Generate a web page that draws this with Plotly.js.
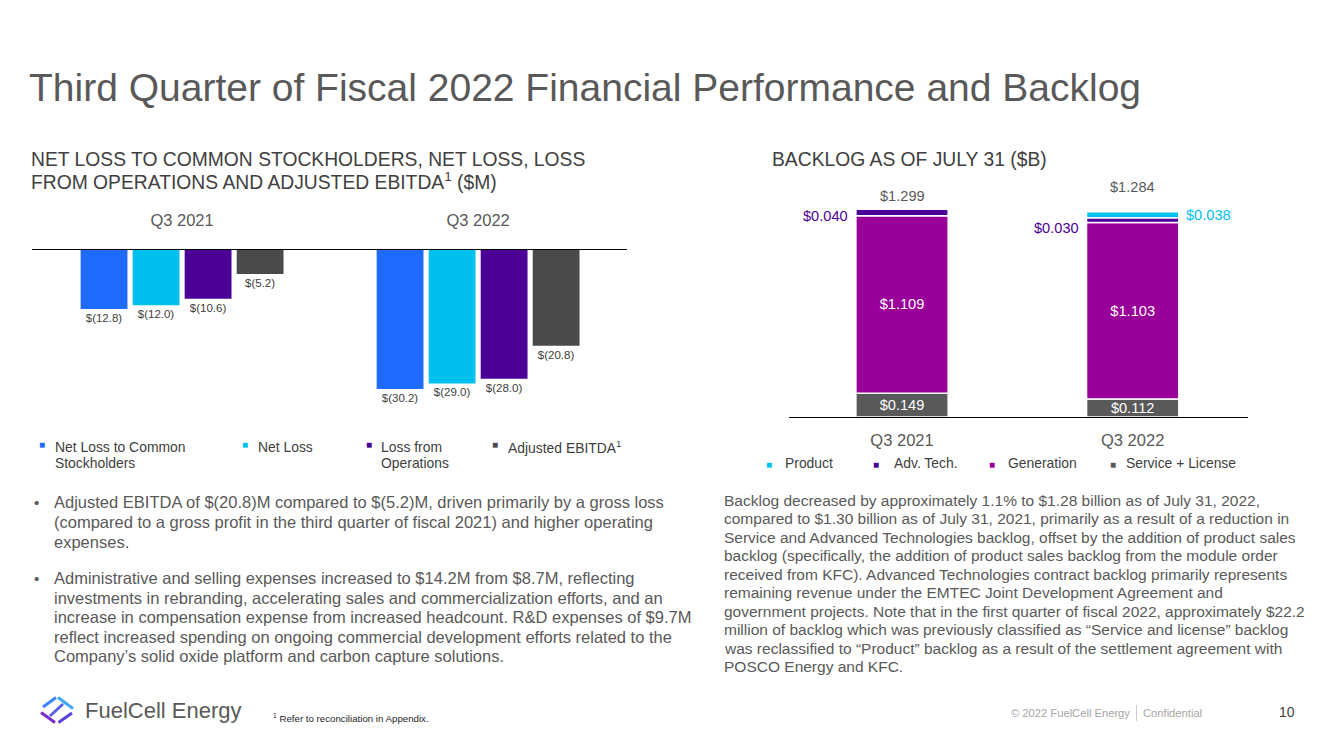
<!DOCTYPE html>
<html>
<head>
<meta charset="utf-8">
<script src="https://cdn.plot.ly/plotly-3.0.1.min.js"></script>
<style>html,body{margin:0;padding:0;background:#fff;}#chart{width:1333px;height:749px;}</style>
</head>
<body>
<div id="chart"></div>
<script>
// ---------- DATA ----------
const lossCategories = ['Q3 2021', 'Q3 2022'];
const lossSeriesNames = ['Net Loss to Common Stockholders', 'Net Loss', 'Loss from Operations', 'Adjusted EBITDA'];
const lossLegendLabels = ['Net Loss to Common<br>Stockholders', 'Net Loss', 'Loss from<br>Operations', 'Adjusted EBITDA<sup>1</sup>'];
const netLossToCommon = [-12.8, -30.2];
const netLoss = [-12.0, -29.0];
const lossFromOperations = [-10.6, -28.0];
const adjustedEbitda = [-5.2, -20.8];

const backlogCategories = ['Q3 2021', 'Q3 2022'];
const backlogSeriesNames = ['Product', 'Adv. Tech.', 'Generation', 'Service + License'];
const serviceLicense = [0.149, 0.112];
const generation = [1.109, 1.103];
const advTech = [0.040, 0.030];
const product = [null, 0.038];
const backlogTotal = [1.299, 1.284];

// ---------- STYLE ----------
const W = 1333, H = 749;
const FONT = '"Liberation Sans", Arial, sans-serif';
const px = x => x / W;
const py = y => 1 - y / H;
const lossColors = ['#1F6BFF', '#00C0F0', '#4B0096', '#4A4A4A'];
const backlogColors = {product: '#00C0F0', adv: '#4B0096', gen: '#990099', service: '#595959'};

const lossValues = [netLossToCommon, netLoss, lossFromOperations, adjustedEbitda];
const fmtLoss = v => '$(' + Math.abs(v).toFixed(1) + ')';
const fmtB = v => '$' + v.toFixed(3);

const traces = [];
lossValues.forEach((vals, i) => {
  traces.push({
    type: 'bar', name: lossSeriesNames[i], x: lossCategories, y: vals,
    xaxis: 'x', yaxis: 'y',
    marker: {color: lossColors[i]},
    text: vals.map(fmtLoss), textposition: 'outside', constraintext: 'none',
    cliponaxis: false,
    textfont: {size: 11.5, color: '#404040', family: FONT},
    hoverinfo: 'skip'
  });
});

// stacked backlog (explicit base from cumulative data)
const baseGen = serviceLicense.slice();
const baseAdv = serviceLicense.map((v, i) => v + generation[i]);
const baseProd = baseAdv.map((v, i) => v + advTech[i]);
const stackCommon = {type: 'bar', xaxis: 'x2', yaxis: 'y2', width: 0.4, offset: -0.2,
  constraintext: 'none', cliponaxis: false, hoverinfo: 'skip'};
traces.push(Object.assign({}, stackCommon, {
  name: backlogSeriesNames[3], x: backlogCategories, y: serviceLicense, base: [0, 0],
  marker: {color: backlogColors.service, line: {color: '#fff', width: 1.5}},
  text: serviceLicense.map(fmtB), textposition: 'inside', insidetextanchor: 'middle',
  textfont: {size: 14.6, color: '#fff', family: FONT}
}));
traces.push(Object.assign({}, stackCommon, {
  name: backlogSeriesNames[2], x: backlogCategories, y: generation, base: baseGen,
  marker: {color: backlogColors.gen, line: {color: '#fff', width: 1.5}},
  text: generation.map(fmtB), textposition: 'inside', insidetextanchor: 'middle',
  textfont: {size: 14.6, color: '#fff', family: FONT}
}));
traces.push(Object.assign({}, stackCommon, {
  name: backlogSeriesNames[1], x: backlogCategories, y: advTech, base: baseAdv,
  marker: {color: backlogColors.adv, line: {color: '#fff', width: 1.5}},
  textposition: 'none'
}));
traces.push(Object.assign({}, stackCommon, {
  name: backlogSeriesNames[0], x: backlogCategories, y: product, base: baseProd,
  marker: {color: backlogColors.product, line: {color: '#fff', width: 1.5}},
  textposition: 'none'
}));

// ---------- ANNOTATIONS ----------
const ann = [];
const txt = (x, y, text, o) => ann.push(Object.assign({
  xref: 'paper', yref: 'paper', x: px(x), y: py(y), text: text, showarrow: false,
  xanchor: 'left', yanchor: 'middle', align: 'left',
  font: {family: FONT, size: 13, color: '#595959'}
}, o || {}));
// multi-line text with explicit line spacing (one annotation per line)
const lines = (x, y0, step, text, font, o) => {
  text.split('<br>').forEach((ln, k) => txt(x, y0 + k * step, ln, Object.assign({font: font}, o || {})));
};

// subtitles
const subFont = {family: FONT, size: 19.3, color: '#404040'};
lines(29, 159, 22, 'NET LOSS TO COMMON STOCKHOLDERS, NET LOSS, LOSS<br>FROM OPERATIONS AND ADJUSTED EBITDA<sup>1</sup> ($M)', subFont);
lines(770, 159, 22, 'BACKLOG AS OF JULY 31 ($B)', subFont);

// left legend
const legFont = {family: FONT, size: 13.9, color: '#404040'};
const lossLegendPos = [[42, 53], [245, 256], [369, 379], [495, 506]];
lossLegendLabels.forEach((lab, i) => {
  txt(lossLegendPos[i][0], 444, '■', {xanchor: 'center', font: {family: FONT, size: 10, color: lossColors[i]}});
  lines(lossLegendPos[i][1], 447, 16, lab, legFont);
});

// right legend
const backlogLegendPos = [[769, 783], [876, 892], [992, 1006], [1113, 1124]];
const backlogLegendColors = [backlogColors.product, backlogColors.adv, backlogColors.gen, backlogColors.service];
backlogSeriesNames.forEach((lab, i) => {
  txt(backlogLegendPos[i][0], 464, '■', {xanchor: 'center', font: {family: FONT, size: 10, color: backlogLegendColors[i]}});
  txt(backlogLegendPos[i][1], 463, lab, {font: legFont});
});

// backlog value annotations (data coords)
const valFont = 14.6;
const totShift = [3, 15];
backlogCategories.forEach((c, i) => {
  ann.push({xref: 'x2', yref: 'y2', x: c, y: backlogTotal[i], text: fmtB(backlogTotal[i]), showarrow: false,
    yanchor: 'bottom', yshift: totShift[i], font: {family: FONT, size: valFont, color: '#595959'}});
  ann.push({xref: 'x2', yref: 'y2', x: c, y: baseAdv[i] + advTech[i] / 2, text: fmtB(advTech[i]), showarrow: false,
    xanchor: 'right', xshift: -52, yshift: i === 0 ? -3 : -8, font: {family: FONT, size: valFont, color: backlogColors.adv}});
  if (product[i] !== null) {
    ann.push({xref: 'x2', yref: 'y2', x: c, y: baseProd[i] + product[i] / 2, text: fmtB(product[i]), showarrow: false,
      xanchor: 'left', xshift: 51, font: {family: FONT, size: valFont, color: backlogColors.product}});
  }
});

// bullet text
const bodyFont = {family: FONT, size: 16.5, color: '#595959'};
txt(32, 502, '•', {font: {family: FONT, size: 15, color: '#595959'}});
lines(52, 502, 19.8, 'Adjusted EBITDA of $(20.8)M compared to $(5.2)M, driven primarily by a gross loss<br>(compared to a gross profit in the third quarter of fiscal 2021) and higher operating<br>expenses.', bodyFont);
txt(32, 578, '•', {font: {family: FONT, size: 15, color: '#595959'}});
lines(52, 578, 19.6, 'Administrative and selling expenses increased to $14.2M from $8.7M, reflecting<br>investments in rebranding, accelerating sales and commercialization efforts, and an<br>increase in compensation expense from increased headcount. R&amp;D expenses of $9.7M<br>reflect increased spending on ongoing commercial development efforts related to the<br>Company’s solid oxide platform and carbon capture solutions.', bodyFont);

lines(722, 500, 18.5, [
  'Backlog decreased by approximately 1.1% to $1.28 billion as of July 31, 2022,',
  'compared to $1.30 billion as of July 31, 2021, primarily as a result of a reduction in',
  'Service and Advanced Technologies backlog, offset by the addition of product sales',
  'backlog (specifically, the addition of product sales backlog from the module order',
  'received from KFC). Advanced Technologies contract backlog primarily represents',
  'remaining revenue under the EMTEC Joint Development Agreement and',
  'government projects. Note that in the first quarter of fiscal 2022, approximately $22.2',
  'million of backlog which was previously classified as “Service and license” backlog',
  'was reclassified to “Product” backlog as a result of the settlement agreement with',
  'POSCO Energy and KFC.'
].join('<br>'), {family: FONT, size: 15.5, color: '#595959'});

// footer
txt(83, 710, 'FuelCell Energy', {font: {family: FONT, size: 22, color: '#595959'}});
txt(271, 718, '<sup>1</sup> Refer to reconciliation in Appendix.', {font: {family: FONT, size: 9.7, color: '#262626'}});
txt(1132, 713, '© 2022 FuelCell Energy', {xanchor: 'right', font: {family: FONT, size: 11.2, color: '#A6A6A6'}});
txt(1141, 713, 'Confidential', {font: {family: FONT, size: 11.2, color: '#A6A6A6'}});
txt(1287, 712, '10', {xanchor: 'center', font: {family: FONT, size: 14, color: '#404040'}});

// logo + separator shapes
const seg = (x0, y0, x1, y1, color, w) => ({type: 'line', xref: 'paper', yref: 'paper',
  x0: px(x0), y0: py(y0), x1: px(x1), y1: py(y1), line: {color: color, width: w || 3}});
const shapes = [
  seg(1136.5, 705, 1136.5, 721, '#D0D0D0', 1),
  seg(43, 707, 56, 697.5, '#3D86FF'),
  seg(58, 697.5, 73, 708.5, '#3FA7F5'),
  seg(41, 712.5, 55, 722.5, '#7A2CC8'),
  seg(58.5, 722.5, 72, 713, '#5A3FD8'),
  seg(50, 716, 63, 704, '#5560E6')
];

const layout = {
  width: W, height: H,
  margin: {l: 0, r: 0, t: 0, b: 0, pad: 0},
  paper_bgcolor: '#ffffff', plot_bgcolor: 'rgba(0,0,0,0)',
  showlegend: false,
  font: {family: FONT, color: '#595959'},
  title: {text: 'Third Quarter of Fiscal 2022 Financial Performance and Backlog',
    x: px(29), xanchor: 'left', xref: 'paper', y: py(87), yanchor: 'middle', yref: 'paper',
    font: {family: FONT, size: 39, color: '#595959'}},
  barmode: 'group', bargap: 0.297, bargroupgap: 0.1,
  xaxis: {domain: [px(32), px(627)], anchor: 'y', side: 'top', type: 'category',
    range: [-0.507, 1.503], showline: true, linecolor: '#000000', linewidth: 1,
    showgrid: false, zeroline: false, ticks: 'outside', ticklen: 16, tickcolor: 'rgba(0,0,0,0)',
    tickfont: {family: FONT, size: 16.5, color: '#595959'}, fixedrange: true},
  yaxis: {domain: [py(430), py(250)], anchor: 'x', range: [-(430 - 250) / 4.6, 0], visible: false, fixedrange: true},
  xaxis2: {domain: [px(789), px(1248)], anchor: 'y2', side: 'bottom', type: 'category',
    range: [-0.49, 1.5], showline: true, linecolor: '#000000', linewidth: 1,
    showgrid: false, zeroline: false, ticks: 'outside', ticklen: 8, tickcolor: 'rgba(0,0,0,0)',
    tickfont: {family: FONT, size: 16.5, color: '#595959'}, fixedrange: true},
  yaxis2: {domain: [py(417), py(180)], anchor: 'x2', range: [0, (417 - 180) / 160], visible: false, fixedrange: true},
  annotations: ann,
  shapes: shapes
};

Plotly.newPlot('chart', traces, layout, {displayModeBar: false, staticPlot: true});
</script>
</body>
</html>
